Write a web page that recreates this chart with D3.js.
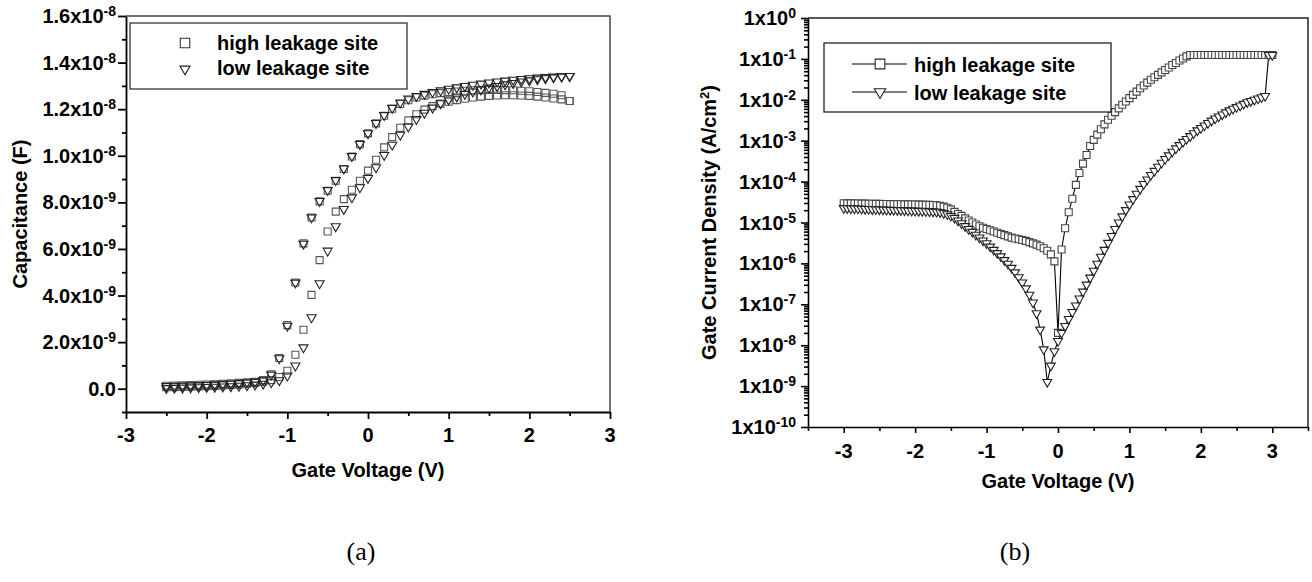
<!DOCTYPE html>
<html>
<head>
<meta charset="utf-8">
<script src="https://cdn.jsdelivr.net/npm/d3@7"></script>
<style>
body { margin: 0; background: #fff; }
svg text { font-family: "Liberation Sans", Arial, sans-serif; font-weight: bold; fill: #000; }
.axis path, .axis line { stroke: #000; stroke-width: 1.8; }
.cap { font-family: "Liberation Serif", "Times New Roman", serif !important; font-weight: normal !important; }
</style>
</head>
<body>
<svg id="fig" width="1312" height="582"></svg>
<script>
// ---------- (a) C-V, capacitance in units of 1e-9 F ----------
const cvVolt = [-2.5,-2.4,-2.3,-2.2,-2.1,-2.0,-1.9,-1.8,-1.7,-1.6,-1.5,-1.4,-1.3,-1.2,-1.1,-1.0,-0.9,-0.8,-0.7,-0.6,-0.5,-0.4,-0.3,-0.2,-0.1,
  0.0,0.1,0.2,0.3,0.4,0.5,0.6,0.7,0.8,0.9,1.0,1.1,1.2,1.3,1.4,1.5,1.6,1.7,1.8,1.9,2.0,2.1,2.2,2.3,2.4,2.5];
// high leakage site, two sweep branches
const capHighA = [0.13,0.14,0.15,0.16,0.17,0.18,0.19,0.21,0.23,0.25,0.28,0.3,0.37,
  0.62,1.32,2.73,4.56,6.24,7.35,8.04,8.5,8.93,9.43,9.97,10.5,
  10.96,11.39,11.72,12.02,12.22,12.38,12.5,12.58,12.64,12.69,12.73,12.76,12.79,12.81,12.82,12.83,12.83,12.82,12.81,12.79,12.77,12.74,12.7,12.66,12.6,12.35];
const capHighB = [0.06,0.07,0.08,0.09,0.1,0.11,0.12,0.14,0.16,0.18,0.21,0.25,0.3,
  0.37,0.5,0.77,1.46,2.53,4.03,5.52,6.75,7.6,8.14,8.54,8.93,
  9.36,9.83,10.36,10.8,11.2,11.52,11.78,11.98,12.13,12.24,12.32,12.39,12.45,12.5,12.54,12.57,12.59,12.6,12.6,12.59,12.57,12.54,12.5,12.46,12.42,12.35];
// low leakage site, two sweep branches
const capLowA = [0.11,0.12,0.13,0.14,0.15,0.16,0.18,0.2,0.22,0.24,0.27,0.3,0.36,
  0.6,1.3,2.7,4.55,6.22,7.35,8.05,8.52,8.95,9.45,9.98,10.5,
  10.96,11.4,11.74,12.05,12.28,12.45,12.56,12.65,12.73,12.8,12.87,12.93,12.99,13.04,13.09,13.14,13.18,13.22,13.26,13.29,13.32,13.35,13.37,13.39,13.41,13.42];
const capLowB = [0.02,0.03,0.04,0.05,0.06,0.07,0.08,0.09,0.1,0.12,0.14,0.17,0.21,
  0.27,0.36,0.56,0.99,1.77,3.06,4.52,5.92,6.97,7.71,8.21,8.64,
  9.04,9.5,10.03,10.47,10.9,11.25,11.57,11.84,12.06,12.25,12.41,12.54,12.65,12.75,12.84,12.92,12.99,13.06,13.12,13.18,13.23,13.28,13.32,13.36,13.39,13.42];

const capTicks = [0,2,4,6,8,10,12,14,16];
const capTickMant = ["0.0","2.0","4.0","6.0","8.0","1.0","1.2","1.4","1.6"];
const capTickExp = ["","-9","-9","-9","-9","-8","-8","-8","-8"];
const voltTicksA = [-3,-2,-1,0,1,2,3];

// ---------- (b) J-V, current density in A/cm2 ----------
const jvVolt = [-3.00,-2.95,-2.90,-2.85,-2.80,-2.75,-2.70,-2.65,-2.60,-2.55,-2.50,-2.45,-2.40,-2.35,-2.30,-2.25,-2.20,-2.15,-2.10,-2.05,
  -2.00,-1.95,-1.90,-1.85,-1.80,-1.75,-1.70,-1.65,-1.60,-1.55,-1.50,-1.45,-1.40,-1.35,-1.30,-1.25,-1.20,-1.15,-1.10,-1.05,
  -1.00,-0.95,-0.90,-0.85,-0.80,-0.75,-0.70,-0.65,-0.60,-0.55,-0.50,-0.45,-0.40,-0.35,-0.30,-0.25,-0.20,-0.15,-0.10,-0.05,
  0.00,0.05,0.10,0.15,0.20,0.25,0.30,0.35,0.40,0.45,0.50,0.55,0.60,0.65,0.70,0.75,0.80,0.85,0.90,0.95,
  1.00,1.05,1.10,1.15,1.20,1.25,1.30,1.35,1.40,1.45,1.50,1.55,1.60,1.65,1.70,1.75,1.80,1.85,1.90,1.95,
  2.00,2.05,2.10,2.15,2.20,2.25,2.30,2.35,2.40,2.45,2.50,2.55,2.60,2.65,2.70,2.75,2.80,2.85,2.90,2.95,3.00];
const jHigh = [2.95e-5,2.94e-5,2.93e-5,2.92e-5,2.91e-5,2.9e-5,2.89e-5,2.88e-5,2.87e-5,2.86e-5,2.85e-5,2.84e-5,2.83e-5,2.82e-5,
  2.81e-5,2.8e-5,2.79e-5,2.78e-5,2.77e-5,2.76e-5,2.75e-5,2.74e-5,2.73e-5,2.71e-5,2.7e-5,2.68e-5,2.64e-5,2.57e-5,
  2.45e-5,2.29e-5,2.09e-5,1.82e-5,1.62e-5,1.45e-5,1.26e-5,1.12e-5,1.0e-5,8.91e-6,8.13e-6,7.41e-6,6.92e-6,6.46e-6,6.03e-6,5.62e-6,
  5.25e-6,4.9e-6,4.57e-6,4.27e-6,4.07e-6,3.89e-6,3.72e-6,3.55e-6,3.31e-6,3.09e-6,2.88e-6,2.63e-6,2.34e-6,2.04e-6,1.66e-6,1.12e-6,
  2.0e-8,2.19e-6,7.24e-6,1.78e-5,3.8e-5,8.32e-5,1.62e-4,2.75e-4,4.47e-4,7.41e-4,1.05e-3,1.41e-3,1.91e-3,2.51e-3,3.24e-3,4.07e-3,
  5.01e-3,6.17e-3,7.59e-3,9.12e-3,1.1e-2,1.32e-2,1.58e-2,1.91e-2,2.24e-2,2.63e-2,3.09e-2,3.55e-2,4.07e-2,4.68e-2,5.37e-2,6.17e-2,
  7.08e-2,7.94e-2,9.12e-2,1.02e-1,1.15e-1,1.245e-1,
  1.245e-1,1.245e-1,1.245e-1,1.245e-1,1.245e-1,1.245e-1,1.245e-1,1.245e-1,1.245e-1,1.245e-1,1.245e-1,1.245e-1,
  1.245e-1,1.245e-1,1.245e-1,1.245e-1,1.245e-1,1.245e-1,1.245e-1,1.245e-1,1.245e-1,1.245e-1,1.245e-1];
const jLow = [2.24e-5,2.23e-5,2.21e-5,2.19e-5,2.18e-5,2.16e-5,2.14e-5,2.13e-5,2.11e-5,2.09e-5,2.08e-5,2.06e-5,2.04e-5,2.03e-5,
  2.02e-5,2.0e-5,1.99e-5,1.97e-5,1.95e-5,1.94e-5,1.93e-5,1.91e-5,1.9e-5,1.88e-5,1.86e-5,1.84e-5,1.82e-5,1.78e-5,
  1.7e-5,1.58e-5,1.45e-5,1.29e-5,1.12e-5,9.55e-6,8.13e-6,6.92e-6,5.89e-6,5.01e-6,4.27e-6,3.63e-6,3.09e-6,2.57e-6,2.14e-6,1.78e-6,
  1.48e-6,1.2e-6,9.77e-7,7.76e-7,6.03e-7,4.57e-7,3.39e-7,2.45e-7,1.7e-7,1.1e-7,6.0e-8,2.4e-8,7.9e-9,1.26e-9,3.16e-9,7.08e-9,
  1.26e-8,2.0e-8,2.95e-8,4.37e-8,6.46e-8,9.33e-8,1.38e-7,2.04e-7,3.02e-7,4.47e-7,6.61e-7,9.77e-7,1.45e-6,2.14e-6,3.16e-6,4.68e-6,
  6.92e-6,1.0e-5,1.41e-5,2.0e-5,2.75e-5,3.72e-5,5.01e-5,6.61e-5,8.71e-5,1.12e-4,1.45e-4,1.82e-4,2.29e-4,2.88e-4,3.55e-4,4.37e-4,
  5.37e-4,6.46e-4,7.76e-4,9.33e-4,1.1e-3,1.29e-3,1.51e-3,1.78e-3,2.04e-3,2.34e-3,2.69e-3,3.09e-3,3.47e-3,3.89e-3,4.37e-3,4.9e-3,
  5.5e-3,6.03e-3,6.61e-3,7.24e-3,7.94e-3,8.71e-3,9.33e-3,1.0e-2,1.07e-2,1.15e-2,1.23e-2,1.24e-1,1.24e-1];

const jTicks = [1e-10,1e-9,1e-8,1e-7,1e-6,1e-5,1e-4,1e-3,1e-2,1e-1,1];
const jTickExp = ["-10","-9","-8","-7","-6","-5","-4","-3","-2","-1","0"];
const voltTicksB = [-3,-2,-1,0,1,2,3];
const seriesNames = ["high leakage site", "low leakage site"];

const svg = d3.select("#fig");
svg.append("rect").attr("width", 1312).attr("height", 582).attr("fill", "#fff");

const sq = size => d3.symbol(d3.symbolSquare, size)();
const tri = size => d3.symbol(d3.symbolTriangle, size)();

// label with superscript exponent, e.g. 1.6x10^-8
function supText(g, x, y, anchor, base, exp, size, supSize) {
  const t = g.append("text").attr("x", x).attr("y", y).attr("text-anchor", anchor)
    .style("font-size", size + "px");
  t.append("tspan").text(base);
  if (exp) t.append("tspan").attr("dy", -7).style("font-size", supSize + "px").text(exp);
  return t;
}

/////////////////////////////// panel (a)
const xA = d3.scaleLinear().domain([-3, 3]).range([126, 610]);
const yA = d3.scaleLinear().domain([-1, 16]).range([412, 16]);
const gA = svg.append("g");

gA.append("g").attr("class", "axis").attr("transform", "translate(0," + yA.range()[0] + ")")
  .call(d3.axisBottom(xA).tickValues(voltTicksA).tickSize(7).tickSizeOuter(0).tickFormat(""));
gA.append("g").attr("class", "axis").attr("transform", "translate(0," + yA.range()[0] + ")")
  .call(d3.axisBottom(xA).tickValues(xA.ticks(12).filter(v => !Number.isInteger(v))).tickSize(4).tickFormat(""))
  .call(g => g.select(".domain").remove());
gA.append("g").attr("class", "axis").attr("transform", "translate(" + xA.range()[0] + ",0)")
  .call(d3.axisLeft(yA).tickValues(capTicks).tickSize(8).tickSizeOuter(0).tickFormat(""));
gA.append("g").attr("class", "axis").attr("transform", "translate(" + xA.range()[0] + ",0)")
  .call(d3.axisLeft(yA).tickValues(yA.ticks(17).filter(v => Math.abs(v % 2) === 1)).tickSize(4).tickFormat(""))
  .call(g => g.select(".domain").remove());
// frame top / right
gA.append("path").attr("fill", "none").attr("stroke", "#444").attr("stroke-width", 1.5)
  .attr("d", `M${xA(-3)},${yA(16)}H${xA(3)}V${yA(-1)}`);

voltTicksA.forEach(v => gA.append("text").attr("x", xA(v)).attr("y", 442)
  .attr("text-anchor", "middle").style("font-size", "20px").text(v));
capTicks.forEach((v, i) => supText(gA, 116, yA(v) + 7, "end", capTickMant[i] + (capTickExp[i] ? "x10" : ""), capTickExp[i], 20, 14));

gA.append("text").attr("x", xA(0)).attr("y", 477).attr("text-anchor", "middle")
  .style("font-size", "20px").text("Gate Voltage (V)");
gA.append("text").attr("transform", "translate(27," + ((yA.range()[0] + yA.range()[1]) / 2) + ") rotate(-90)")
  .attr("text-anchor", "middle").style("font-size", "20px").text("Capacitance (F)");

const cvHigh = [capHighA, capHighB].map(arr => cvVolt.map((v, i) => [v, arr[i]]));
const cvLow = [capLowA, capLowB].map(arr => cvVolt.map((v, i) => [v, arr[i]]));
cvHigh.forEach(branch => gA.append("g").selectAll("path").data(branch).enter().append("path")
  .attr("d", sq(49)).attr("transform", d => `translate(${xA(d[0])},${yA(d[1])})`)
  .attr("fill", "none").attr("stroke", "#555").attr("stroke-width", 1.1));
cvLow.forEach(branch => gA.append("g").selectAll("path").data(branch).enter().append("path")
  .attr("d", tri(36)).attr("transform", d => `translate(${xA(d[0])},${yA(d[1])}) rotate(180)`)
  .attr("fill", "none").attr("stroke", "#222").attr("stroke-width", 1.1));

// legend (a)
gA.append("rect").attr("x", 130).attr("y", 23).attr("width", 277).attr("height", 66)
  .attr("fill", "#fff").attr("stroke", "#333").attr("stroke-width", 1.3);
gA.append("path").attr("d", sq(90)).attr("transform", "translate(185,43)")
  .attr("fill", "none").attr("stroke", "#333").attr("stroke-width", 1.1);
gA.append("path").attr("d", tri(44)).attr("transform", "translate(185,69) rotate(180)")
  .attr("fill", "none").attr("stroke", "#222").attr("stroke-width", 1.1);
gA.append("text").attr("x", 217).attr("y", 50).style("font-size", "20px").text(seriesNames[0]);
gA.append("text").attr("x", 217).attr("y", 75).style("font-size", "20px").text(seriesNames[1]);

/////////////////////////////// panel (b)
const xB = d3.scaleLinear().domain([-3.5, 3.5]).range([808, 1308]);
const yB = d3.scaleLog().domain([1e-10, 1]).range([427, 18]);
const gB = svg.append("g");

gB.append("g").attr("class", "axis").attr("transform", "translate(0," + yB.range()[0] + ")")
  .call(d3.axisBottom(xB).tickValues(voltTicksB).tickSize(6).tickSizeOuter(0).tickFormat(""));
gB.append("g").attr("class", "axis").attr("transform", "translate(0," + yB.range()[0] + ")")
  .call(d3.axisBottom(xB).tickValues(xB.ticks(14).filter(v => !Number.isInteger(v))).tickSize(4).tickFormat(""))
  .call(g => g.select(".domain").remove());
gB.append("g").attr("class", "axis").attr("transform", "translate(" + xB.range()[0] + ",0)")
  .call(d3.axisLeft(yB).tickValues(jTicks).tickSize(7).tickSizeOuter(0).tickFormat(""));
gB.append("g").attr("class", "axis").attr("transform", "translate(" + xB.range()[0] + ",0)")
  .call(d3.axisLeft(yB).tickValues(yB.ticks(20).filter(v => !jTicks.some(t => Math.abs(v / t - 1) < 1e-6))).tickSize(4).tickFormat(""))
  .call(g => g.select(".domain").remove());
gB.selectAll(".axis line, .axis path").style("stroke-width", 1.6);
gB.append("path").attr("fill", "none").attr("stroke", "#222").attr("stroke-width", 1.5)
  .attr("d", `M${xB(-3.5)},${yB(1)}H${xB(3.5)}V${yB(1e-10)}`);

voltTicksB.forEach(v => gB.append("text").attr("x", xB(v)).attr("y", 458)
  .attr("text-anchor", "middle").style("font-size", "20px").text(v));
jTicks.forEach((v, i) => supText(gB, 796, yB(v) + 7, "end", "1x10", jTickExp[i], 20, 14));

gB.append("text").attr("x", xB(0)).attr("y", 488).attr("text-anchor", "middle")
  .style("font-size", "20px").text("Gate Voltage (V)");
const yLab = gB.append("text").attr("transform", "translate(716," + ((yB.range()[0] + yB.range()[1]) / 2) + ") rotate(-90)")
  .attr("text-anchor", "middle").style("font-size", "20px");
yLab.append("tspan").text("Gate Current Density (A/cm");
yLab.append("tspan").attr("dy", -7).style("font-size", "13px").text("2");
yLab.append("tspan").attr("dy", 7).text(")");

const jvHigh = jvVolt.map((v, i) => [v, jHigh[i]]);
const jvLow = jvVolt.map((v, i) => [v, jLow[i]]);
const lineB = d3.line().x(d => xB(d[0])).y(d => yB(d[1]));
[jvHigh, jvLow].forEach(s => gB.append("path").datum(s).attr("d", lineB)
  .attr("fill", "none").attr("stroke", "#000").attr("stroke-width", 1.1));
gB.append("g").selectAll("path").data(jvHigh).enter().append("path")
  .attr("d", sq(49)).attr("transform", d => `translate(${xB(d[0])},${yB(d[1])})`)
  .attr("fill", "#fff").attr("stroke", "#444").attr("stroke-width", 1.1);
gB.append("g").selectAll("path").data(jvLow).enter().append("path")
  .attr("d", tri(34)).attr("transform", d => `translate(${xB(d[0])},${yB(d[1])}) rotate(180)`)
  .attr("fill", "#fff").attr("stroke", "#222").attr("stroke-width", 1.1);

// legend (b)
gB.append("rect").attr("x", 824).attr("y", 43).attr("width", 287).attr("height", 69)
  .attr("fill", "#fff").attr("stroke", "#222").attr("stroke-width", 1.3);
[64, 92].forEach((ly, i) => {
  gB.append("line").attr("x1", 852).attr("x2", 907).attr("y1", ly).attr("y2", ly)
    .attr("stroke", "#000").attr("stroke-width", 1.1);
  gB.append("path").attr("d", i === 0 ? sq(95) : tri(55))
    .attr("transform", i === 0 ? `translate(880,${ly})` : `translate(880,${ly}) rotate(180)`)
    .attr("fill", "#fff").attr("stroke", "#222").attr("stroke-width", 1.1);
  gB.append("text").attr("x", 914).attr("y", ly + 7.5).style("font-size", "20px").text(seriesNames[i]);
});

// panel captions
svg.append("text").attr("class", "cap").attr("x", 361).attr("y", 560).attr("text-anchor", "middle")
  .style("font-size", "26px").text("(a)");
svg.append("text").attr("class", "cap").attr("x", 1015).attr("y", 560).attr("text-anchor", "middle")
  .style("font-size", "26px").text("(b)");
</script>
</body>
</html>
